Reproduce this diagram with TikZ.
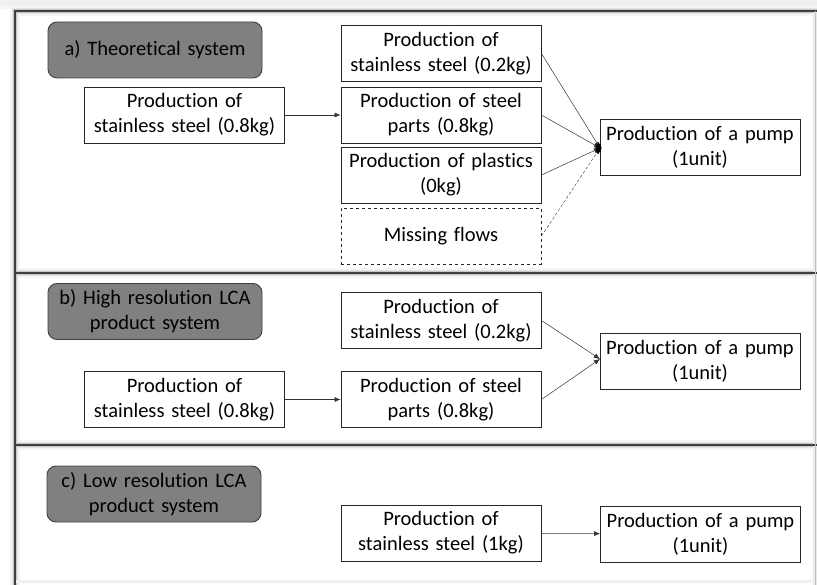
\documentclass[tikz,border=0pt]{standalone}
\usepackage{fontspec}
\setmainfont{Carlito}[Ligatures={NoCommon}]
\usetikzlibrary{arrows.meta}
\tikzset{
  box/.style={draw=black!85, line width=0.9pt, fill=white, minimum width=200pt, minimum height=56pt,
    text width=196pt, align=center, inner sep=0pt,
    font=\fontsize{20.5pt}{25pt}\selectfont},
  lbl/.style={draw=black!75, line width=0.9pt, fill=black!50, rounded corners=9pt, minimum width=214pt,
    minimum height=56pt, text width=210pt, align=center, inner sep=0pt,
    font=\fontsize{20.5pt}{25pt}\selectfont},
  flow/.style={line width=0.5pt, draw=black!80, -{Latex[length=6pt,width=5pt]}},
  frameline/.style={line width=1.6pt, draw=black!75}
}
\begin{document}
\begin{tikzpicture}[x=1pt,y=-1pt]
\useasboundingbox (0,0) rectangle (817,585);
\fill[white] (0,0) rectangle (817,585);
% top gradient band
\fill[black!6] (0,0) rectangle (817,6);
\fill[black!3] (0,6) rectangle (817,9);
% halos
\foreach \w/\c in {10pt/4,6pt/10,3.5pt/22}{
  \draw[line width=\w, draw=black!\c] (15,585) -- (15,11) -- (817,11);
  \draw[line width=\w, draw=black!\c] (15,273) -- (817,273);
  \draw[line width=\w, draw=black!\c] (15,445) -- (817,445);
}
\draw[line width=4pt, draw=black!8] (815,11) -- (815,585);
\draw[line width=3pt, draw=black!6] (15,581) -- (815,581);
% frame lines
\draw[frameline] (15,585) -- (15,11) -- (817,11);
\draw[frameline] (15,273) -- (817,273);
\draw[frameline] (15,445) -- (817,445);
\draw[line width=0.6pt, draw=black!25] (815,11) -- (815,585);

% ---------- panel a ----------
\node[lbl] (la) at (155,50) {a) Theoretical system};
\node[box] (a1) at (184.5,115) {Production of\\stainless steel (0.8kg)};
\node[box] (a2) at (441,53.5) {Production of\\stainless steel (0.2kg)};
\node[box] (a3) at (441,115) {Production of steel\\parts (0.8kg)};
\node[box] (a4) at (441,175) {Production of plastics\\(0kg)};
\node[box, dashed] (a5) at (441,236) {Missing flows};
\node[box] (a6) at (700,147) {Production of a pump\\(1unit)};
\coordinate (pa) at (600,148);
\draw[flow] (a1) -- (a3);
\draw[flow] (a2.east) -- (pa);
\draw[flow] (a3.east) -- (pa);
\draw[flow] (a4.east) -- (pa);
\draw[flow, densely dashed, line width=0.4pt] (a5.east) -- (pa);
\fill[black] (598.5,148) ellipse (3pt and 5pt);

% ---------- panel b ----------
\node[lbl] (lb) at (155,311.5) {b) High resolution LCA\\product system};
\node[box] (b1) at (184.5,399.5) {Production of\\stainless steel (0.8kg)};
\node[box] (b2) at (441,320.5) {Production of\\stainless steel (0.2kg)};
\node[box] (b3) at (441,399.5) {Production of steel\\parts (0.8kg)};
\node[box] (b4) at (700,361.5) {Production of a pump\\(1unit)};
\coordinate (pb) at (600,359);
\draw[flow] (b1) -- (b3);
\draw[flow] (b2.east) -- (pb);
\draw[flow] (b3.east) -- (pb);

% ---------- panel c ----------
\node[lbl] (lc) at (154,494) {c) Low resolution LCA\\product system};
\node[box] (c1) at (441,533) {Production of\\stainless steel (1kg)};
\node[box] (c2) at (700.5,534) {Production of a pump\\(1unit)};
\draw[flow] (c1) -- (c2);
\end{tikzpicture}
\end{document}
